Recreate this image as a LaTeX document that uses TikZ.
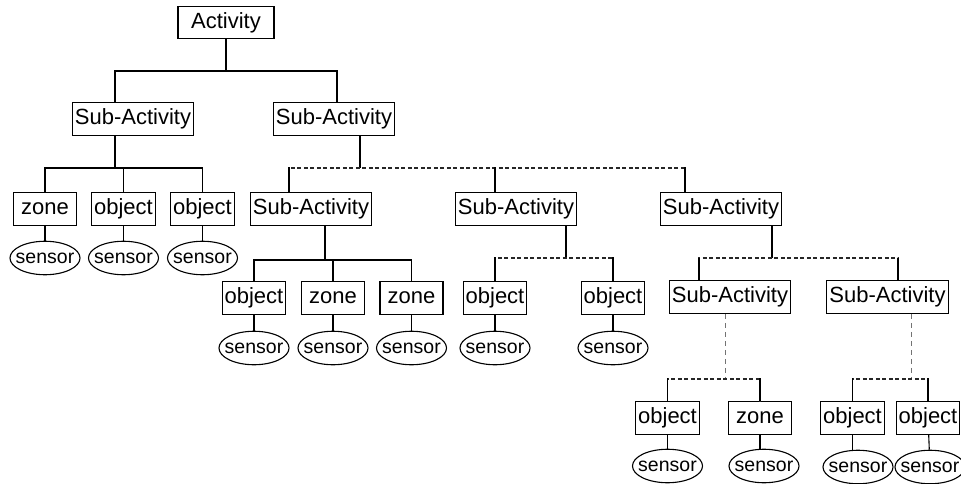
\documentclass[tikz,border=0pt]{standalone}
\usepackage{fontspec}
\setmainfont{Liberation Sans}
\usetikzlibrary{shapes.geometric}

\tikzset{
  box/.style={draw,line width=1.1pt,font=\fontsize{22}{24}\selectfont,
    text height=16pt,text depth=4.5pt,inner xsep=2.5pt,inner ysep=6pt,
    minimum width=63pt},
  sensorbox/.style={ellipse,draw,line width=1.1pt,font=\fontsize{19.5}{21}\selectfont,
    inner xsep=-4.5pt,inner ysep=6.5pt},
  dashbus/.style={line width=1.1pt,dash pattern=on 4pt off 2.5pt,black!85},
  greydash/.style={line width=.9pt,dash pattern=on 5pt off 4pt,black!55}
}

\begin{document}
\begin{tikzpicture}[x=1pt,y=-1pt,line width=1.1pt]
\useasboundingbox (0,0) rectangle (961,484);

% boxes
\node[box,minimum width=96pt] (act) at (226,22.5) {Activity};
\node[box] (sa1) at (133,119) {Sub-Activity};
\node[box] (sa2) at (334,119) {Sub-Activity};
\node[box] (zo1) at (45,209) {zone};
\node[box] (ob1) at (123.5,209) {object};
\node[box] (ob2) at (202.5,209) {object};
\node[box] (sb1) at (311,209) {Sub-Activity};
\node[box] (sb2) at (516,209) {Sub-Activity};
\node[box] (sb3) at (721,209) {Sub-Activity};
\node[box] (ob3) at (254,298) {object};
\node[box] (zo2) at (333,298) {zone};
\node[box] (zo3) at (411.5,298) {zone};
\node[box] (ob4) at (495,298) {object};
\node[box] (ob5) at (613,298) {object};
\node[box] (sc1) at (730,297) {Sub-Activity};
\node[box] (sc2) at (887.5,297) {Sub-Activity};
\node[box] (ob6) at (667.5,418) {object};
\node[box] (zo4) at (760,418) {zone};
\node[box] (ob7) at (852.5,418) {object};
\node[box] (ob8) at (928,418) {object};

% sensors
\node[sensorbox] (se1) at (45,258) {sensor};
\node[sensorbox] (se2) at (123.5,258) {sensor};
\node[sensorbox] (se3) at (202.5,258) {sensor};
\node[sensorbox] (se4) at (254,348) {sensor};
\node[sensorbox] (se5) at (333,348) {sensor};
\node[sensorbox] (se6) at (411.5,348) {sensor};
\node[sensorbox] (se7) at (495,348) {sensor};
\node[sensorbox] (se8) at (613,348) {sensor};
\node[sensorbox] (se9) at (667.5,466) {sensor};
\node[sensorbox] (se10) at (764,466) {sensor};
\node[sensorbox] (se11) at (858,467) {sensor};
\node[sensorbox] (se12) at (930,467) {sensor};

% junctions
\coordinate (j1) at (226,71);
\coordinate (j2) at (115,168);
\coordinate (j3) at (360,168);
\coordinate (j4) at (325,260);
\coordinate (j5) at (566,258);
\coordinate (j6) at (772,258);
\coordinate (j7) at (725,379);
\coordinate (j8) at (911,379);

% Activity
\draw (act) -- (j1);
\draw ([xshift=-18pt]sa1.north) |- (j1) -| ([xshift=3pt]sa2.north);

% left Sub-Activity
\draw ([xshift=-18pt]sa1.south) -- (j2);
\draw (zo1.north) |- (j2) -| (ob2.north);
\draw (ob1.north) -- (ob1 |- j2);

% right Sub-Activity
\draw (sa2.south -| j3) -- (j3);
\draw[dashbus] ([xshift=-22pt]sb1.north) |- (j3) -| ([xshift=-36pt]sb3.north);
\draw ([xshift=-22pt]sb1.north) -- ([xshift=-22pt,yshift=25pt]sb1.north);
\draw ([xshift=-21pt]sb2.north) -- ([xshift=-21pt,yshift=25pt]sb2.north);
\draw ([xshift=-36pt]sb3.north) -- ([xshift=-36pt,yshift=25pt]sb3.north);

\draw (sb1.south -| j4) -- (j4);
\draw (ob3.north) |- (j4) -| (zo3.north);
\draw (zo2.north) -- (zo2 |- j4);

\draw (sb2.south -| j5) -- (j5);
\draw[dashbus] (ob4.north) |- (j5) -| (ob5.north);
\draw (ob4.north) -- ([yshift=24pt]ob4.north);
\draw (ob5.north) -- ([yshift=24pt]ob5.north);

\draw (sb3.south -| j6) -- (j6);
\draw[dashbus] ([xshift=-31pt]sc1.north) |- (j6) -| ([xshift=10.5pt]sc2.north);
\draw ([xshift=-31pt]sc1.north) -- ([xshift=-31pt,yshift=22pt]sc1.north);
\draw ([xshift=10.5pt]sc2.north) -- ([xshift=10.5pt,yshift=22pt]sc2.north);

\draw[greydash] (sc1.south -| j7) -- (j7);
\draw[dashbus] (ob6.north) |- (j7) -| (zo4.north);
\draw (ob6.north) -- ([yshift=23pt]ob6.north);
\draw (zo4.north) -- ([yshift=23pt]zo4.north);

\draw[greydash] (sc2.south -| j8) -- (j8);
\draw[dashbus] (ob7.north) |- (j8) -| (ob8.north);
\draw (ob7.north) -- ([yshift=23pt]ob7.north);
\draw (ob8.north) -- ([yshift=23pt]ob8.north);

% sensor links
\draw (zo1) -- (se1);
\draw (ob1) -- (se2);
\draw (ob2) -- (se3);
\draw (ob3) -- (se4);
\draw (zo2) -- (se5);
\draw (zo3) -- (se6);
\draw (ob4) -- (se7);
\draw (ob5) -- (se8);
\draw (ob6) -- (se9);
\draw (zo4) -- (zo4 |- se10.north);
\draw (ob7) -- (ob7 |- se11.north);
\draw (ob8) -- (se12);
\end{tikzpicture}
\end{document}
